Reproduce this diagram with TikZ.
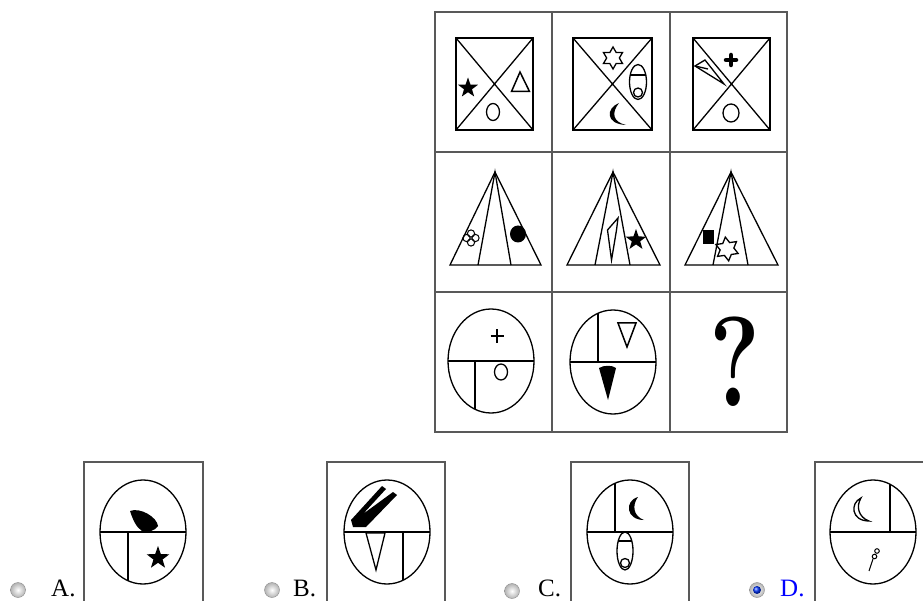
\documentclass[tikz,border=0pt]{standalone}
\usepackage{fontspec}
\newfontfamily\optfont{Liberation Serif}
\begin{document}
\begin{tikzpicture}[x=1pt,y=-1pt,
    frame/.style={line width=1.4pt,black!65},
    fig/.style={line width=1.3pt},
    solidstar/.pic={\fill (-90:1) \foreach \k in {1,...,9} {-- ({-90+36*\k}:{ifthenelse(isodd(\k),0.4,1)})} -- cycle;},
    hexstar/.pic={\draw[fig] (-90:1) \foreach \k in {1,...,11} {-- ({-90+30*\k}:{ifthenelse(isodd(\k),0.577,1)})} -- cycle;},
    radio/.style={circle,draw=black!45,inner color=white,outer color=black!30,minimum size=15pt,inner sep=0pt},
    choice/.style={anchor=base west,inner sep=0pt,font=\optfont\fontsize{25}{25}\selectfont}]
        \useasboundingbox (0,0) rectangle (923,601);
        % grid
        \coordinate (G1) at (435,12);
        \coordinate (G2) at (787,432);
        \draw[frame] (G1) rectangle (G2);
        \draw[frame] (552,12) -- (552,432);
        \draw[frame] (670,12) -- (670,432);
        \draw[frame] (435,152) -- (787,152);
        \draw[frame] (435,292) -- (787,292);
        % row 1
        \draw[fig] (456,38) rectangle (533,130);
        \draw[fig] (456,38) -- (533,130) (533,38) -- (456,130);
        \pic[scale=10.5] at (468,88) {solidstar};
        \draw[line width=1.5pt] (520,72) -- (511.5,91.5) -- (529.5,91.5) -- cycle;
        \draw[fig] (493,112) ellipse (6.5 and 8.5);

        \draw[fig] (573,38) rectangle (652,130);
        \draw[fig] (573,38) -- (652,130) (652,38) -- (573,130);
        \pic[scale=11] at (613,58) {hexstar};
        \draw[fig] (638,82) ellipse (8.5 and 17.5);
        \draw[fig] (630.2,75) -- (645.8,75);
        \draw[fig] (638,92.5) circle (4.5);
        \fill (619,103) .. controls (606,108) and (605,124) .. (626,125) .. controls (613,122) and (611,113) .. cycle;

        \draw[fig] (693,38) rectangle (770,130);
        \draw[fig] (693,38) -- (770,130) (770,38) -- (693,130);
        \draw[line width=4.5pt,line cap=round] (726,60) -- (736,60) (731,55) -- (731,65);
        \draw[fig] (695,66) -- (705,60) -- (724,84) -- cycle;
        \draw[fig] (695,66) -- (708,69);
        \draw[fig] (731,113) ellipse (8 and 9);
        % row 2
        \draw[fig] (495,172) -- (450,265) -- (541,265) -- cycle;
        \draw[fig] (478,265) -- (495,172) -- (511,265);
        \foreach \dx/\dy in {4.5/0,-4.5/0,0/4.5,0/-4.5}
            \draw[line width=1pt] (471+\dx,238+\dy) circle (3.6);
        \fill (518,234) ellipse (8 and 8.5);

        \draw[fig] (613,172) -- (567,265) -- (660,265) -- cycle;
        \draw[fig] (595,265) -- (613,172) -- (630,265);
        \draw[fig] (618,218) -- (607.5,230) -- (611.5,260) -- (616.5,230) -- cycle;
        \pic[scale=11] at (636,240) {solidstar};

        \draw[fig] (731,172) -- (685,265) -- (778,265) -- cycle;
        \draw[fig] (713,265) -- (731,172) -- (748,265);
        \fill (703,230) rectangle (714,244);
        \pic[scale=12,rotate=8] at (727,249) {hexstar};
        % row 3
        \draw[fig] (491,361) ellipse (43 and 52);
        \draw[fig] (448,361) -- (534,361);
        \draw[fig] (475,361) -- (475,409.3);
        \draw[line width=1.4pt] (490.5,336) -- (503.5,336) (497,329.5) -- (497,342.5);
        \draw[fig] (501,372) ellipse (6.5 and 8);

        \draw[fig] (613,362) ellipse (43 and 52);
        \draw[fig] (570,362) -- (656,362);
        \draw[fig] (598,313.3) -- (598,362);
        \draw[line width=1.5pt] (618,323) -- (636,323) -- (627,347) -- cycle;
        \fill (599,368) .. controls (604,365) and (612,365) .. (616,368) -- (608,400) -- cycle;

        \node[anchor=base,inner sep=0pt,xscale=0.75,transform shape,font=\bfseries\fontsize{128}{128}\selectfont] (qmark) at (735,406) {?};
        % answers
        \draw[frame] (84,620) -- (84,462) -- (203,462) -- (203,620);
        \draw[fig] (143,532) ellipse (43 and 52);
        \draw[fig] (100,532) -- (186,532);
        \draw[fig] (128,532) -- (128,580.7);
        \fill (130,511) .. controls (140,507) and (157,517) .. (158,526) .. controls (155,531) and (147,533) .. (142,531) .. controls (136,527) and (133,520) .. cycle;
        \pic[scale=12] at (158,558) {solidstar};

        \draw[frame] (327,620) -- (327,462) -- (445,462) -- (445,620);
        \draw[fig] (387,532) ellipse (43 and 52);
        \draw[fig] (344,532) -- (430,532);
        \draw[fig] (403,532) -- (403,580.3);
        \fill (351,520) -- (382,486) -- (386,489) -- (363,514) -- (393,492) -- (397,495) -- (366,527) -- (353,527) -- cycle;
        \draw[fig] (366,533) -- (385,533) -- (376,570) -- cycle;

        \draw[frame] (571,620) -- (571,462) -- (689,462) -- (689,620);
        \draw[fig] (630,532) ellipse (43 and 52);
        \draw[fig] (587,532) -- (673,532);
        \draw[fig] (615,483.3) -- (615,532);
        \fill (638,497) .. controls (624,501) and (626,520) .. (644,520) .. controls (633,516) and (632,505) .. cycle;
        \draw[fig] (625,551) ellipse (8 and 19);
        \draw[fig] (618.2,541) -- (631.8,541);
        \draw[fig] (625,563) circle (4.5);

        \draw[frame] (815,620) -- (815,462) -- (935,462) -- (935,620);
        \draw[fig] (873,532) ellipse (43 and 52);
        \draw[fig] (830,532) -- (916,532);
        \draw[fig] (890,484.2) -- (890,532);
        \draw[fig] (861,498) .. controls (850,503) and (851,521) .. (869,521) .. controls (858,517) and (856,506) .. cycle;
        \draw[line width=1pt] (877,551) circle (2.3) (874.5,556.5) circle (2.3);
        \draw[line width=1pt] (873,559) -- (869,571);

        \node[radio] (rA) at (18,590) {};
        \node[radio] (rB) at (272,590) {};
        \node[radio] (rC) at (512,591) {};
        \node[radio] (rD) at (757,590) {};
        \shade[ball color=blue!80!cyan] (rD.center) circle (4);
        \node[choice] (lA) at (51,596) {A.};
        \node[choice] (lB) at (293,596) {B.};
        \node[choice] (lC) at (538,596) {C.};
        \node[choice,blue] (lD) at (780,596) {D.};
\end{tikzpicture}
\end{document}
